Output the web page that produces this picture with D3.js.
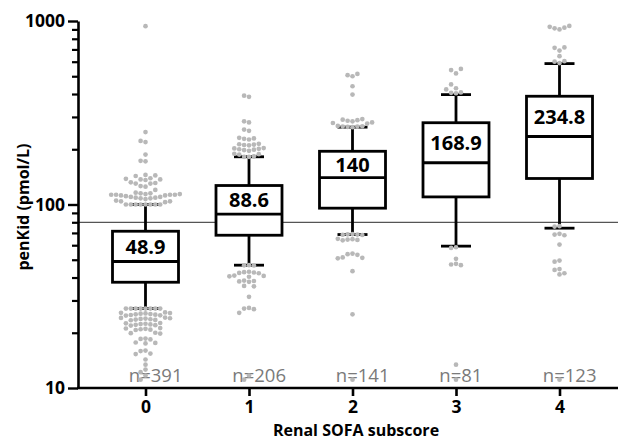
<!DOCTYPE html>
<html>
<head>
<meta charset="utf-8">
<script src="https://cdn.jsdelivr.net/npm/d3@7"></script>
<style>
  body { margin: 0; background: #fff; }
  text { font-family: "Open Sans", sans-serif; }
</style>
</head>
<body>
<svg id="chart" width="618" height="440"></svg>
<script>
// renal SOFA subscore groups
const categories = ["0", "1", "2", "3", "4"];
const counts = [391, 206, 141, 81, 123];

// box plot stats (pmol/L)
const medians = [48.9, 88.6, 140, 168.9, 234.8];
const q1 = [37.7, 68.0, 95.5, 110, 138.6];
const q3 = [71.5, 126.9, 195, 279, 389];
const whiskLow = [27.1, 46.7, 68.6, 59.3, 74.3];
const whiskHigh = [100, 182, 264, 397, 586];

const cutoff = 80;
const yTicks = [10, 100, 1000];

// points outside the whiskers
const dots0 = [
    100, 100, 100, 100, 100, 100, 100, 100,
    103, 104, 104, 105,
    107, 108, 108, 109, 109, 110, 110, 111,
    112, 112, 113, 113, 113, 113, 114, 114, 115, 115, 116,
    120, 125, 126, 130, 130, 131, 132,
    136, 137, 137, 138, 139, 143, 144, 145,
    172, 173, 187, 219, 222, 248, 937,
    27.1, 27.1, 27.1, 27.1, 27.1, 27.1, 27.1, 27.1,
    25.8, 25.7, 25.6, 25.5, 25.4, 25.3, 25.2, 25.1, 25.0, 24.9, 24.8,
    24.2, 24.1, 24.0, 23.9, 23.8, 23.7, 23.6, 23.5, 23.4,
    22.6, 22.5, 22.4, 22.3, 22.2, 22.1, 22.0, 21.9,
    21.2, 21.1, 21.0, 20.9, 20.8, 20.7,
    20.0, 19.9, 19.8, 18.6, 18.5, 18.4, 17.7, 17.6, 17.5,
    16.0, 15.9, 15.4, 15.3, 14.3, 13.4, 12.6, 12.2, 11.7, 11.1
];
const dots1 = [
    182, 182, 183, 187, 188, 189,
    196, 198, 199, 200, 201, 202, 203,
    210, 211, 212, 213, 214,
    226, 228, 229, 231, 252, 256, 280, 284, 386, 392,
    46.7, 46.6, 46.5, 43.0, 42.8, 42.6, 42.4, 42.2,
    41.0, 40.8, 40.6, 40.4, 38.5, 38.3, 38.1, 37.9,
    36.0, 35.8, 31.4, 27.3, 27.1, 26.9, 25.7, 11.7, 11.1
];
const dots2 = [
    264, 265, 266, 266, 267, 268, 276, 278, 280,
    284, 286, 288, 290, 292, 397, 441, 500, 507, 515,
    69, 68.8, 68.6, 68.4, 68.2, 65, 64.7, 64.4, 64.1, 63.8,
    54, 53.6, 53.2, 51.5, 51.2, 50.9, 43.3, 25.2, 11.1
];
const dots3 = [
    404, 406, 408, 424, 430, 451, 518, 540, 548,
    58.5, 58, 50.6, 47.5, 47.1, 46.7, 13.4, 11.1
];
const dots4 = [
    590, 600, 604, 643, 690, 714, 718, 900, 912, 920, 930, 940,
    76.2, 75.8, 69.2, 68.6, 68, 60.5, 49.5, 48.8, 44.5, 44, 42.2, 41.6, 11.1
];
const dotGroups = [dots0, dots1, dots2, dots3, dots4];

let svg = d3.select("#chart");

let y = d3.scaleLog().domain([10, 1000]).range([388, 21]);
let x = d3.scalePoint().domain(categories).range([145.5, 559.5]);

let boxW = 66, capW = 30, dotR = 2.35, dotGap = 4.9;

// cutoff line
svg.append("line")
    .attr("x1", 78).attr("x2", 618)
    .attr("y1", y(cutoff)).attr("y2", y(cutoff))
    .attr("stroke", "#555")
    .attr("stroke-width", 1.2);

// y axis, major + minor ticks
let yAxis = svg.append("g")
    .attr("transform", "translate(78,0)")
    .call(d3.axisLeft(y).tickValues(yTicks).tickSize(10).tickSizeOuter(0).tickPadding(3).tickFormat(d3.format("d")));
yAxis.select(".domain").attr("stroke-width", 2.6);
yAxis.selectAll(".tick line").attr("stroke-width", 2.4);
yAxis.selectAll(".tick text")
    .style("font-size", "17.5px")
    .style("font-weight", "bold")
    .attr("fill", "#000");

let minor = svg.append("g")
    .attr("transform", "translate(78,0)")
    .call(d3.axisLeft(y).tickValues(y.ticks().filter(t => !yTicks.includes(t))).tickSize(6).tickFormat(""));
minor.select(".domain").remove();
minor.selectAll(".tick line").attr("stroke-width", 2.2);

// x axis
svg.append("line")
    .attr("x1", 77).attr("x2", 618)
    .attr("y1", 388).attr("y2", 388)
    .attr("stroke", "#000")
    .attr("stroke-width", 2.6);
let xAxis = svg.append("g")
    .attr("transform", "translate(0,388)")
    .call(d3.axisBottom(x).tickSize(8).tickPadding(5));
xAxis.select(".domain").remove();
xAxis.selectAll(".tick line").attr("stroke-width", 2.6);
xAxis.selectAll(".tick text")
    .style("font-size", "17.5px")
    .style("font-weight", "bold")
    .attr("fill", "#000");

// axis titles
svg.append("text")
    .attr("transform", "translate(29,207) rotate(-90)")
    .attr("text-anchor", "middle")
    .style("font-size", "16px")
    .style("font-weight", "bold")
    .text("penKid (pmol/L)");
svg.append("text")
    .attr("x", 356).attr("y", 436)
    .attr("text-anchor", "middle")
    .style("font-size", "16px")
    .style("font-weight", "bold")
    .text("Renal SOFA subscore");

// n labels, "=" sits on the category position
let nFont = "18.5px";
let probe = svg.append("text").style("font-size", nFont);
probe.text("n");
let nW = probe.node().getComputedTextLength();
probe.text("=");
let eqW = probe.node().getComputedTextLength();
probe.remove();

svg.append("g")
    .selectAll("text")
    .data(categories)
    .enter().append("text")
    .attr("x", d => x(d) - nW - eqW / 2)
    .attr("y", 381.5)
    .style("font-size", nFont)
    .attr("fill", "#7a7a7a")
    .text((d, i) => "n=" + counts[i]);

// boxes
let boxes = svg.append("g")
    .selectAll("g")
    .data(categories)
    .enter().append("g");

boxes.append("line")
    .attr("x1", d => x(d)).attr("x2", d => x(d))
    .attr("y1", (d, i) => y(whiskHigh[i])).attr("y2", (d, i) => y(q3[i]));
boxes.append("line")
    .attr("x1", d => x(d)).attr("x2", d => x(d))
    .attr("y1", (d, i) => y(q1[i])).attr("y2", (d, i) => y(whiskLow[i]));
boxes.append("line")
    .attr("x1", d => x(d) - capW / 2).attr("x2", d => x(d) + capW / 2)
    .attr("y1", (d, i) => y(whiskHigh[i])).attr("y2", (d, i) => y(whiskHigh[i]));
boxes.append("line")
    .attr("x1", d => x(d) - capW / 2).attr("x2", d => x(d) + capW / 2)
    .attr("y1", (d, i) => y(whiskLow[i])).attr("y2", (d, i) => y(whiskLow[i]));
boxes.append("rect")
    .attr("x", d => x(d) - boxW / 2)
    .attr("width", boxW)
    .attr("y", (d, i) => y(q3[i]))
    .attr("height", (d, i) => y(q1[i]) - y(q3[i]))
    .attr("fill", "#fff");
boxes.append("line")
    .attr("x1", d => x(d) - boxW / 2).attr("x2", d => x(d) + boxW / 2)
    .attr("y1", (d, i) => y(medians[i])).attr("y2", (d, i) => y(medians[i]));
boxes.selectAll("line, rect")
    .attr("stroke", "#000")
    .attr("stroke-width", 2.8);

boxes.append("text")
    .attr("x", d => x(d))
    .attr("y", (d, i) => (y(q3[i]) + y(medians[i])) / 2)
    .attr("dy", "0.36em")
    .attr("text-anchor", "middle")
    .style("font-size", "20px")
    .style("font-weight", "bold")
    .text((d, i) => String(medians[i]));

// simple beeswarm: closest to the median placed first
function swarm(values, med, cx) {
    let sorted = values.slice().sort((a, b) => Math.abs(Math.log(a / med)) - Math.abs(Math.log(b / med)));
    let placed = [];
    sorted.forEach(v => {
        let py = y(v);
        for (let k = 0; k < 40; k++) {
            let off = (k % 2 === 0 ? 1 : -1) * Math.ceil(k / 2) * dotGap;
            let px = cx + off;
            let hit = placed.some(p => (p.x - px) ** 2 + (p.y - py) ** 2 < dotGap * dotGap - 0.5);
            if (!hit) { placed.push({ x: px, y: py }); break; }
        }
    });
    return placed;
}

let dotLayer = svg.append("g");
dotGroups.forEach((vals, i) => {
    dotLayer.append("g")
        .selectAll("circle")
        .data(swarm(vals, medians[i], x(categories[i])))
        .enter().append("circle")
        .attr("cx", d => d.x)
        .attr("cy", d => d.y)
        .attr("r", dotR)
        .attr("fill", "#b8b8b8");
});
</script>
</body>
</html>
